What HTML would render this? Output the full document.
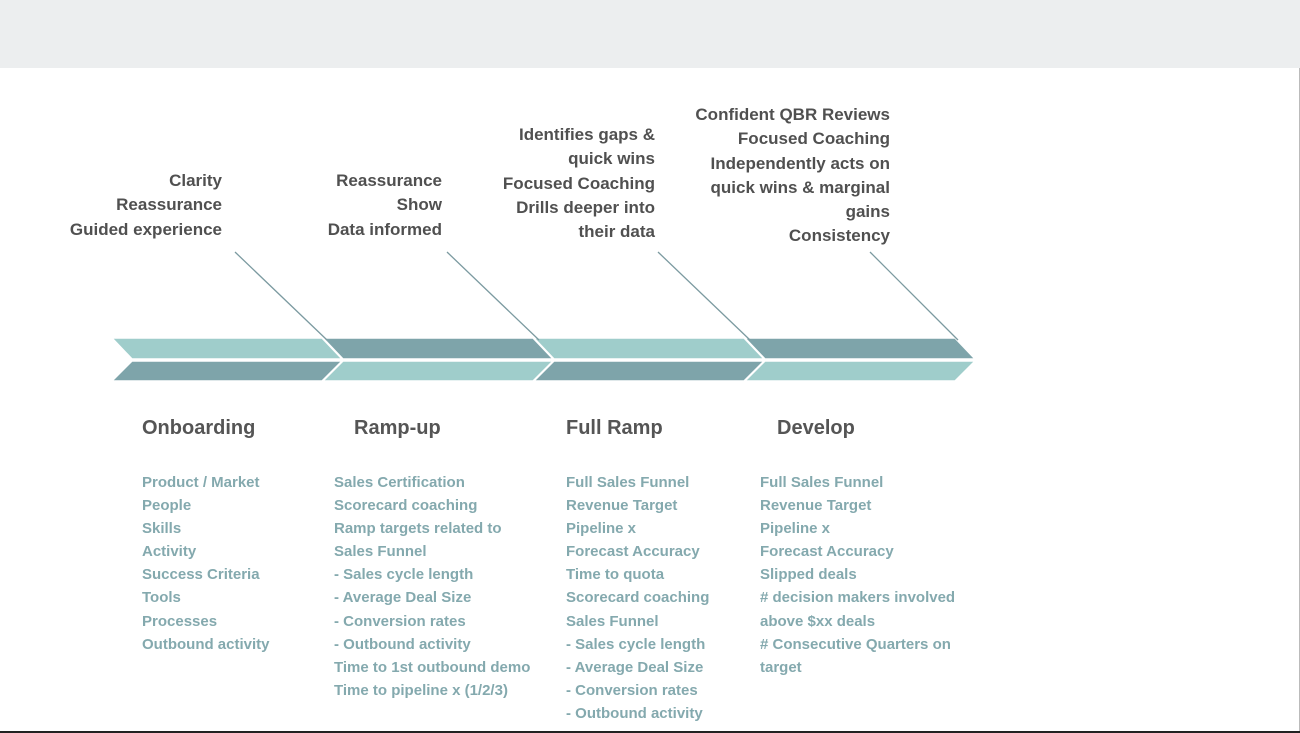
<!DOCTYPE html>
<html><head><meta charset="utf-8"><style>
html,body{margin:0;padding:0;}
body{width:1300px;height:733px;position:relative;overflow:hidden;background:#fff;font-family:"Liberation Sans",Arial,sans-serif;font-weight:bold;}
.hdr{position:absolute;left:0;top:0;width:1300px;height:68px;background:#eceeef;}
.top{position:absolute;color:#505050;font-size:17px;line-height:24.3px;text-align:right;}
.h{position:absolute;color:#555;font-size:20px;top:417px;}
.l{position:absolute;color:#84a9ae;font-size:15px;line-height:23.1px;top:471px;}
</style></head><body>
<div class="hdr"></div>
<div style="position:absolute;left:1299px;top:68px;width:1px;height:665px;background:#bbb"></div>
<div style="position:absolute;left:0;top:731px;width:1300px;height:2px;background:#222"></div>
<svg width="1300" height="733" style="position:absolute;left:0;top:0">
<g stroke="#fff" stroke-width="1.5">
<polygon points="112,338 322,338 342,359 132,359" fill="#9fcdcb"/>
<polygon points="132,361 342,361 322,381 112,381" fill="#7ea4aa"/>
<polygon points="323,338 533,338 553,359 343,359" fill="#7ea4aa"/>
<polygon points="343,361 553,361 533,381 323,381" fill="#9fcdcb"/>
<polygon points="534,338 744,338 764,359 554,359" fill="#9fcdcb"/>
<polygon points="554,361 764,361 744,381 534,381" fill="#7ea4aa"/>
<polygon points="745,338 955,338 975,359 765,359" fill="#7ea4aa"/>
<polygon points="765,361 975,361 955,381 745,381" fill="#9fcdcb"/>
</g>
<g stroke="#7b9aa0" stroke-width="1.3">
<line x1="235" y1="252" x2="327" y2="340"/>
<line x1="447" y1="252" x2="539" y2="340"/>
<line x1="658" y1="252" x2="750" y2="340"/>
<line x1="870" y1="252" x2="958" y2="340"/>
</g>
</svg>
<div class="top" style="right:1078px;top:169px">Clarity<br>Reassurance<br>Guided experience</div>
<div class="top" style="right:858px;top:169px">Reassurance<br>Show<br>Data informed</div>
<div class="top" style="right:645px;top:123px">Identifies gaps &amp;<br>quick wins<br>Focused Coaching<br>Drills deeper into<br>their data</div>
<div class="top" style="right:410px;top:103px">Confident QBR Reviews<br>Focused Coaching<br>Independently acts on<br>quick wins &amp; marginal<br>gains<br>Consistency</div>
<div class="h" style="left:142px">Onboarding</div>
<div class="h" style="left:354px">Ramp-up</div>
<div class="h" style="left:566px">Full Ramp</div>
<div class="h" style="left:777px">Develop</div>
<div class="l" style="left:142px">Product / Market<br>People<br>Skills<br>Activity<br>Success Criteria<br>Tools<br>Processes<br>Outbound activity</div>
<div class="l" style="left:334px">Sales Certification<br>Scorecard coaching<br>Ramp targets related to<br>Sales Funnel<br>- Sales cycle length<br>- Average Deal Size<br>- Conversion rates<br>- Outbound activity<br>Time to 1st outbound demo<br>Time to pipeline x (1/2/3)</div>
<div class="l" style="left:566px">Full Sales Funnel<br>Revenue Target<br>Pipeline x<br>Forecast Accuracy<br>Time to quota<br>Scorecard coaching<br>Sales Funnel<br>- Sales cycle length<br>- Average Deal Size<br>- Conversion rates<br>- Outbound activity</div>
<div class="l" style="left:760px">Full Sales Funnel<br>Revenue Target<br>Pipeline x<br>Forecast Accuracy<br>Slipped deals<br># decision makers involved<br>above $xx deals<br># Consecutive Quarters on<br>target</div>
</body></html>
